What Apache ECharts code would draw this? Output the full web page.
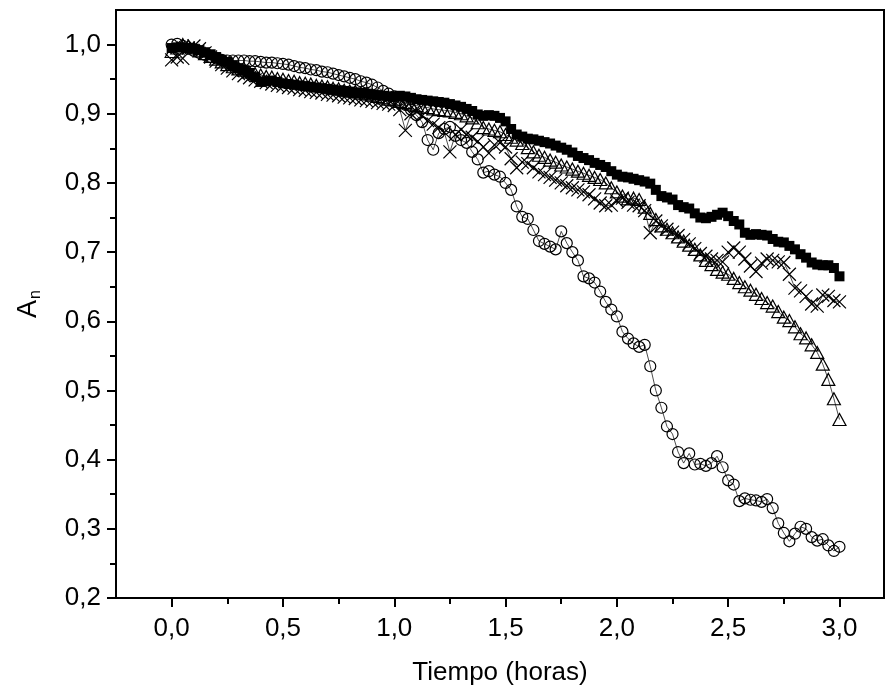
<!DOCTYPE html>
<html>
<head>
<meta charset="utf-8">
<script src="https://cdn.jsdelivr.net/npm/echarts@6/dist/echarts.min.js"></script>
<style>
  html, body { margin: 0; padding: 0; background: #fff; }
  #main { width: 888px; height: 695px; }
</style>
</head>
<body>
<div id="main"></div>
<script>
// tiempo (horas) de cada lectura
const tiempo = [
  0.000, 0.025, 0.050, 0.075, 0.100, 0.125, 0.150, 0.175, 0.200, 0.225,
  0.250, 0.275, 0.300, 0.325, 0.350, 0.375, 0.400, 0.425, 0.450, 0.475,
  0.500, 0.525, 0.550, 0.575, 0.600, 0.625, 0.650, 0.675, 0.700, 0.725,
  0.750, 0.775, 0.800, 0.825, 0.850, 0.875, 0.900, 0.925, 0.950, 0.975,
  1.000, 1.025, 1.050, 1.075, 1.100, 1.125, 1.150, 1.175, 1.200, 1.225,
  1.250, 1.275, 1.300, 1.325, 1.350, 1.375, 1.400, 1.425, 1.450, 1.475,
  1.500, 1.525, 1.550, 1.575, 1.600, 1.625, 1.650, 1.675, 1.700, 1.725,
  1.750, 1.775, 1.800, 1.825, 1.850, 1.875, 1.900, 1.925, 1.950, 1.975,
  2.000, 2.025, 2.050, 2.075, 2.100, 2.125, 2.150, 2.175, 2.200, 2.225,
  2.250, 2.275, 2.300, 2.325, 2.350, 2.375, 2.400, 2.425, 2.450, 2.475,
  2.500, 2.525, 2.550, 2.575, 2.600, 2.625, 2.650, 2.675, 2.700, 2.725,
  2.750, 2.775, 2.800, 2.825, 2.850, 2.875, 2.900, 2.925, 2.950, 2.975,
  3.000
];

// cuadrados llenos
const serieCuadrados = [
  0.995, 0.996, 0.996, 0.995, 0.994, 0.992, 0.989, 0.986, 0.982, 0.978,
  0.975, 0.970, 0.966, 0.963, 0.959, 0.953, 0.946, 0.947, 0.948, 0.946,
  0.944, 0.943, 0.942, 0.941, 0.940, 0.939, 0.938, 0.937, 0.936, 0.935,
  0.934, 0.933, 0.932, 0.931, 0.930, 0.929, 0.928, 0.927, 0.926, 0.925,
  0.925, 0.926, 0.925, 0.923, 0.921, 0.920, 0.919, 0.918, 0.917, 0.916,
  0.914, 0.912, 0.910, 0.907, 0.904, 0.899, 0.897, 0.898, 0.897, 0.894,
  0.889, 0.878, 0.870, 0.867, 0.864, 0.863, 0.861, 0.859, 0.857, 0.854,
  0.851, 0.848, 0.844, 0.839, 0.836, 0.833, 0.829, 0.826, 0.823, 0.817,
  0.812, 0.809, 0.808, 0.806, 0.804, 0.802, 0.799, 0.790, 0.781, 0.779,
  0.776, 0.768, 0.765, 0.763, 0.756, 0.750, 0.749, 0.751, 0.754, 0.757,
  0.752, 0.745, 0.740, 0.728, 0.725, 0.726, 0.725, 0.724, 0.719, 0.715,
  0.714, 0.709, 0.704, 0.697, 0.692, 0.685, 0.682, 0.681, 0.681, 0.677,
  0.665
];

// circulos abiertos
const serieCirculos = [
  1.000, 1.001, 0.998, 0.994, 0.991, 0.988, 0.985, 0.982, 0.980, 0.978,
  0.977, 0.977, 0.977, 0.977, 0.976, 0.976, 0.975, 0.974, 0.974, 0.973,
  0.972, 0.971, 0.969, 0.967, 0.966, 0.964, 0.963, 0.961, 0.960, 0.958,
  0.956, 0.954, 0.952, 0.950, 0.947, 0.945, 0.942, 0.938, 0.933, 0.929,
  0.925, 0.920, 0.913, 0.906, 0.898, 0.888, 0.862, 0.848, 0.872, 0.878,
  0.881, 0.868, 0.862, 0.858, 0.845, 0.834, 0.815, 0.817, 0.812, 0.809,
  0.800, 0.790, 0.766, 0.751, 0.748, 0.732, 0.716, 0.712, 0.708, 0.704,
  0.730, 0.713, 0.700, 0.688, 0.665, 0.662, 0.656, 0.643, 0.628, 0.617,
  0.607, 0.585, 0.575, 0.568, 0.563, 0.566, 0.535, 0.500, 0.475, 0.448,
  0.437, 0.411, 0.395, 0.409, 0.393, 0.394, 0.391, 0.395, 0.405, 0.389,
  0.370, 0.364, 0.340, 0.344, 0.342, 0.341, 0.339, 0.343, 0.330, 0.308,
  0.294, 0.282, 0.293, 0.303, 0.300, 0.288, 0.283, 0.285, 0.276, 0.268,
  0.274
];

// triangulos abiertos
const serieTriangulos = [
  0.990, 0.995, 1.000, 0.998, 0.995, 0.991, 0.987, 0.983, 0.979, 0.975,
  0.971, 0.968, 0.965, 0.963, 0.960, 0.958, 0.956, 0.954, 0.953, 0.951,
  0.950, 0.948, 0.947, 0.945, 0.944, 0.943, 0.941, 0.940, 0.939, 0.937,
  0.936, 0.934, 0.933, 0.932, 0.930, 0.929, 0.927, 0.925, 0.923, 0.921,
  0.920, 0.918, 0.916, 0.914, 0.912, 0.910, 0.909, 0.907, 0.906, 0.905,
  0.904, 0.902, 0.900, 0.897, 0.894, 0.887, 0.880, 0.878, 0.876, 0.874,
  0.870, 0.866, 0.862, 0.857, 0.851, 0.845, 0.840, 0.837, 0.833, 0.830,
  0.826, 0.823, 0.820, 0.817, 0.814, 0.811, 0.808, 0.805, 0.800, 0.793,
  0.787, 0.781, 0.777, 0.778, 0.776, 0.765, 0.756, 0.747, 0.738, 0.733,
  0.728, 0.722, 0.716, 0.710, 0.704, 0.696, 0.688, 0.682, 0.675, 0.671,
  0.668, 0.662, 0.656, 0.650, 0.645, 0.639, 0.633, 0.627, 0.622, 0.614,
  0.606, 0.601, 0.592, 0.582, 0.576, 0.566, 0.555, 0.538, 0.516, 0.488,
  0.458
];

// cruces
const serieCruces = [
  0.978, 0.982, 0.980, 0.995, 0.998, 0.994, 0.988, 0.982, 0.976, 0.971,
  0.966, 0.962, 0.958, 0.955, 0.952, 0.949, 0.947, 0.945, 0.943, 0.941,
  0.940, 0.938, 0.937, 0.935, 0.934, 0.932, 0.931, 0.930, 0.928, 0.927,
  0.926, 0.924, 0.923, 0.922, 0.920, 0.919, 0.918, 0.916, 0.915, 0.914,
  0.912, 0.906, 0.876, 0.900, 0.903, 0.897, 0.890, 0.885, 0.880, 0.873,
  0.845, 0.870, 0.877, 0.870, 0.866, 0.860, 0.852, 0.843, 0.855, 0.858,
  0.852, 0.835, 0.822, 0.830, 0.828, 0.822, 0.816, 0.812, 0.808, 0.804,
  0.800, 0.796, 0.793, 0.790, 0.787, 0.783, 0.777, 0.771, 0.767, 0.768,
  0.774, 0.778, 0.772, 0.768, 0.767, 0.760, 0.728, 0.745, 0.738, 0.733,
  0.729, 0.724, 0.718, 0.712, 0.705, 0.698, 0.694, 0.690, 0.688, 0.686,
  0.700, 0.706, 0.700, 0.690, 0.680, 0.672, 0.684, 0.690, 0.688, 0.686,
  0.685, 0.668, 0.648, 0.644, 0.636, 0.625, 0.622, 0.638, 0.636, 0.630,
  0.628
];

const xTicks = [0, 0.5, 1.0, 1.5, 2.0, 2.5, 3.0];
const xMinorTicks = [0.25, 0.75, 1.25, 1.75, 2.25, 2.75];
const yTicks = [0.2, 0.3, 0.4, 0.5, 0.6, 0.7, 0.8, 0.9, 1.0];
const yMinorTicks = [0.25, 0.35, 0.45, 0.55, 0.65, 0.75, 0.85, 0.95];

const FONT = 'Liberation Sans, Arial, sans-serif';

function pairs(vals) {
    return tiempo.map(function (t, i) { return [t, vals[i]]; });
}

function coma(v) {
    return v.toFixed(1).replace('.', ',');
}

let chart = echarts.init(document.getElementById('main'));

let lineaBase = {
    type: 'line',
    showSymbol: true,
    animation: false,
    silent: true,
    lineStyle: { color: '#000', width: 0.7 },
    emphasis: { disabled: true }
};

let option = {
    backgroundColor: '#fff',
    animation: false,
    grid: {
        left: 116, right: 4, top: 10, bottom: 97,
        containLabel: false,
        outerBoundsMode: 'none',
        show: true,
        borderColor: '#000',
        borderWidth: 2
    },
    xAxis: [{
        type: 'value',
        min: -0.25,
        max: 3.2,
        position: 'bottom',
        name: 'Tiempo (horas)',
        nameLocation: 'middle',
        nameGap: 62,
        nameTextStyle: { fontFamily: FONT, fontSize: 26, color: '#000' },
        axisLine: { onZero: false, lineStyle: { color: '#000', width: 2 } },
        axisTick: { customValues: xTicks, length: 9, lineStyle: { color: '#000', width: 2 } },
        axisLabel: {
            customValues: xTicks,
            formatter: coma,
            margin: 18,
            fontFamily: FONT, fontSize: 26, color: '#000'
        },
        splitLine: { show: false }
    }, {
        type: 'value',
        min: -0.25,
        max: 3.2,
        position: 'bottom',
        axisLine: { show: false, onZero: false },
        axisTick: { customValues: xMinorTicks, length: 6, lineStyle: { color: '#000', width: 2 } },
        axisLabel: { show: false },
        splitLine: { show: false }
    }],
    yAxis: [{
        type: 'value',
        min: 0.2,
        max: 1.05,
        position: 'left',
        name: '{a|A}{s|n}',
        nameLocation: 'middle',
        nameRotate: 90,
        nameGap: 72,
        nameTextStyle: {
            color: '#000',
            rich: {
                a: { fontFamily: FONT, fontSize: 27, color: '#000' },
                s: { fontFamily: FONT, fontSize: 16, color: '#000', padding: [14, 0, 0, 1] }
            }
        },
        axisLine: { onZero: false, lineStyle: { color: '#000', width: 2 } },
        axisTick: { customValues: yTicks, length: 9, lineStyle: { color: '#000', width: 2 } },
        axisLabel: {
            customValues: yTicks,
            formatter: coma,
            margin: 15,
            fontFamily: FONT, fontSize: 26, color: '#000'
        },
        splitLine: { show: false }
    }, {
        type: 'value',
        min: 0.2,
        max: 1.05,
        position: 'left',
        axisLine: { show: false, onZero: false },
        axisTick: { customValues: yMinorTicks, length: 6, lineStyle: { color: '#000', width: 2 } },
        axisLabel: { show: false },
        splitLine: { show: false }
    }],
    series: [
        Object.assign({}, lineaBase, {
            name: 'cuadrados',
            symbol: 'rect',
            symbolSize: 10,
            itemStyle: { color: '#000', borderColor: '#000', borderWidth: 0 },
            data: pairs(serieCuadrados)
        }),
        Object.assign({}, lineaBase, {
            name: 'circulos',
            symbol: 'circle',
            symbolSize: 11,
            itemStyle: { color: 'rgba(0,0,0,0)', borderColor: '#000', borderWidth: 1.2 },
            data: pairs(serieCirculos)
        }),
        Object.assign({}, lineaBase, {
            name: 'triangulos',
            symbol: 'triangle',
            symbolSize: [13, 12],
            itemStyle: { color: 'rgba(0,0,0,0)', borderColor: '#000', borderWidth: 1.2 },
            data: pairs(serieTriangulos)
        }),
        Object.assign({}, lineaBase, {
            name: 'cruces',
            symbol: 'path://M0,0L10,10M10,0L0,10',
            symbolSize: 13,
            itemStyle: { color: 'rgba(0,0,0,0)', borderColor: '#000', borderWidth: 1.2 },
            data: pairs(serieCruces)
        })
    ]
};

chart.setOption(option);
</script>
</body>
</html>
